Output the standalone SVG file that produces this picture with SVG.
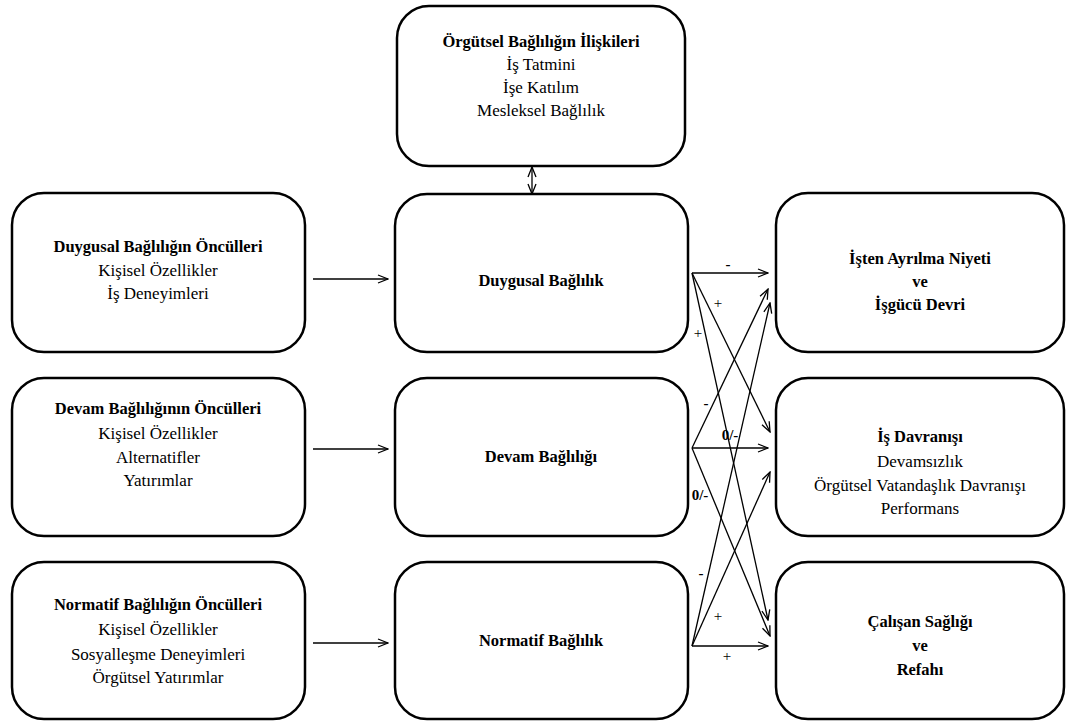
<svg xmlns="http://www.w3.org/2000/svg" width="1067" height="722" viewBox="0 0 1067 722">
<style>
.box{fill:#fff;stroke:#000;stroke-width:2.5}
text{font-family:"Liberation Serif","Times New Roman",serif;font-size:17px;fill:#000;text-anchor:middle}
.b{font-weight:bold;font-size:16.5px}
.lbl{font-size:15px}
.conn line{stroke:#000;stroke-width:1.3;marker-end:url(#ah)}
</style>
<defs>
<marker id="ah" viewBox="0 0 12 10" refX="11" refY="5" markerWidth="12" markerHeight="10" markerUnits="userSpaceOnUse" orient="auto-start-reverse">
<path d="M1,1 L11,5 L1,9" fill="none" stroke="#000" stroke-width="1.3"/>
</marker>
</defs>
<rect width="1067" height="722" fill="#fff"/>

<g id="iliskiler">
<rect class="box" x="397" y="6" width="288" height="160" rx="32"/>
<text class="b" x="541" y="47">Örgütsel Bağlılığın İlişkileri</text>
<text x="541" y="70">İş Tatmini</text>
<text x="541" y="93">İşe Katılım</text>
<text x="541" y="116">Mesleksel Bağlılık</text>
</g>

<g id="duygusal-onculler">
<rect class="box" x="12" y="193" width="293" height="159" rx="32"/>
<text class="b" x="158" y="252">Duygusal Bağlılığın Öncülleri</text>
<text x="158" y="276">Kişisel Özellikler</text>
<text x="158" y="299">İş Deneyimleri</text>
</g>

<g id="devam-onculler">
<rect class="box" x="12" y="378" width="293" height="158" rx="32"/>
<text class="b" x="158" y="414">Devam Bağlılığının Öncülleri</text>
<text x="158" y="439">Kişisel Özellikler</text>
<text x="158" y="463">Alternatifler</text>
<text x="158" y="486">Yatırımlar</text>
</g>

<g id="normatif-onculler">
<rect class="box" x="12" y="562" width="293" height="157" rx="32"/>
<text class="b" x="158" y="610">Normatif Bağlılığın Öncülleri</text>
<text x="158" y="635">Kişisel Özellikler</text>
<text x="158" y="660">Sosyalleşme Deneyimleri</text>
<text x="158" y="683">Örgütsel Yatırımlar</text>
</g>

<g id="duygusal">
<rect class="box" x="395" y="194" width="293" height="158" rx="32"/>
<text class="b" x="541" y="286">Duygusal Bağlılık</text>
</g>

<g id="devam">
<rect class="box" x="395" y="378" width="293" height="158" rx="32"/>
<text class="b" x="541" y="462">Devam Bağlılığı</text>
</g>

<g id="normatif">
<rect class="box" x="395" y="562" width="293" height="157" rx="32"/>
<text class="b" x="541" y="646">Normatif Bağlılık</text>
</g>

<g id="ayrilma">
<rect class="box" x="776" y="193" width="288" height="159" rx="32"/>
<text class="b" x="920" y="264">İşten Ayrılma Niyeti</text>
<text class="b" x="920" y="287">ve</text>
<text class="b" x="920" y="310">İşgücü Devri</text>
</g>

<g id="is-davranisi">
<rect class="box" x="776" y="378" width="288" height="158" rx="32"/>
<text class="b" x="920" y="442">İş Davranışı</text>
<text x="920" y="467">Devamsızlık</text>
<text x="920" y="491">Örgütsel Vatandaşlık Davranışı</text>
<text x="920" y="514">Performans</text>
</g>

<g id="saglik">
<rect class="box" x="776" y="562" width="288" height="157" rx="32"/>
<text class="b" x="920" y="627">Çalışan Sağlığı</text>
<text class="b" x="920" y="651">ve</text>
<text class="b" x="920" y="675">Refahı</text>
</g>

<g id="connectors" class="conn">
<line x1="532" y1="194" x2="532" y2="167" style="marker-start:url(#ah)"/>
<line x1="313" y1="279" x2="388" y2="279"/>
<line x1="313" y1="449" x2="388" y2="449"/>
<line x1="313" y1="643" x2="388" y2="643"/>
<line x1="692" y1="273" x2="768" y2="273"/>
<line x1="692" y1="273" x2="770" y2="432"/>
<line x1="692" y1="273" x2="768" y2="620"/>
<line x1="692" y1="448" x2="768" y2="289"/>
<line x1="692" y1="448" x2="768" y2="448"/>
<line x1="692" y1="448" x2="770" y2="636"/>
<line x1="692" y1="646" x2="770" y2="303"/>
<line x1="692" y1="646" x2="770" y2="472"/>
<line x1="692" y1="646" x2="768" y2="646"/>
</g>

<g id="labels">
<text class="lbl b" x="728" y="269">-</text>
<text class="lbl" x="718" y="308">+</text>
<text class="lbl" x="698" y="338">+</text>
<text class="lbl b" x="706" y="408">-</text>
<text class="lbl b" x="730" y="440">0/-</text>
<text class="lbl b" x="700" y="500">0/-</text>
<text class="lbl b" x="701" y="578">-</text>
<text class="lbl" x="718" y="621">+</text>
<text class="lbl" x="727" y="661">+</text>
</g>
</svg>
